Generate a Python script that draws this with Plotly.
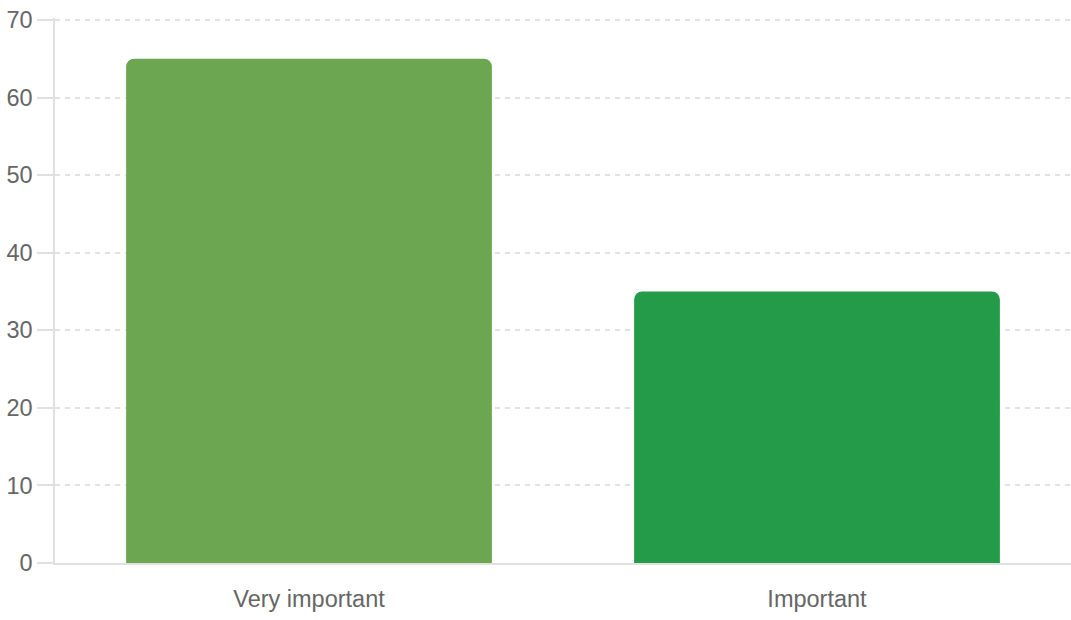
import plotly.graph_objects as go

categories = ["Very important", "Important"]
values = [65, 35]
colors = ["#6ca651", "#239b48"]
y_ticks = [0, 10, 20, 30, 40, 50, 60, 70]
y_max = 70.25

fig = go.Figure(go.Bar(
    x=categories, y=values, marker=dict(color=colors, line=dict(width=0)),
    hoverinfo="x+y",
))

fig.update_layout(
    width=1071, height=620,
    margin=dict(l=55, r=0, t=18, b=57),
    paper_bgcolor="white", plot_bgcolor="white",
    bargap=0.28, barcornerradius=8,
    showlegend=False,
    font=dict(family="Liberation Sans, Arial, sans-serif", size=23.5, color="#666666"),
)
fig.update_yaxes(
    range=[0, y_max], tickvals=y_ticks, ticktext=[str(v) for v in y_ticks],
    showgrid=True, gridcolor="#e2e2e2", griddash="5px,5px", gridwidth=1.5,
    zeroline=False, showline=True, linecolor="#e0e0e0", linewidth=1.5,
    ticks="outside", ticklen=16, tickcolor="#e0e0e0", tickwidth=1.5,
    tickfont=dict(size=23.5, color="#666666"),
    automargin=False,
)
fig.update_xaxes(
    showgrid=False, zeroline=False, showline=True, linecolor="#e0e0e0", linewidth=1.5,
    ticks="outside", ticklen=14, tickcolor="rgba(0,0,0,0)",
    tickfont=dict(size=23.5, color="#666666"),
    automargin=False,
)

fig.write_html(
    "out.html",
    config={"displayModeBar": False},
    post_script="document.body.style.margin='0';document.body.style.overflow='hidden';",
)
